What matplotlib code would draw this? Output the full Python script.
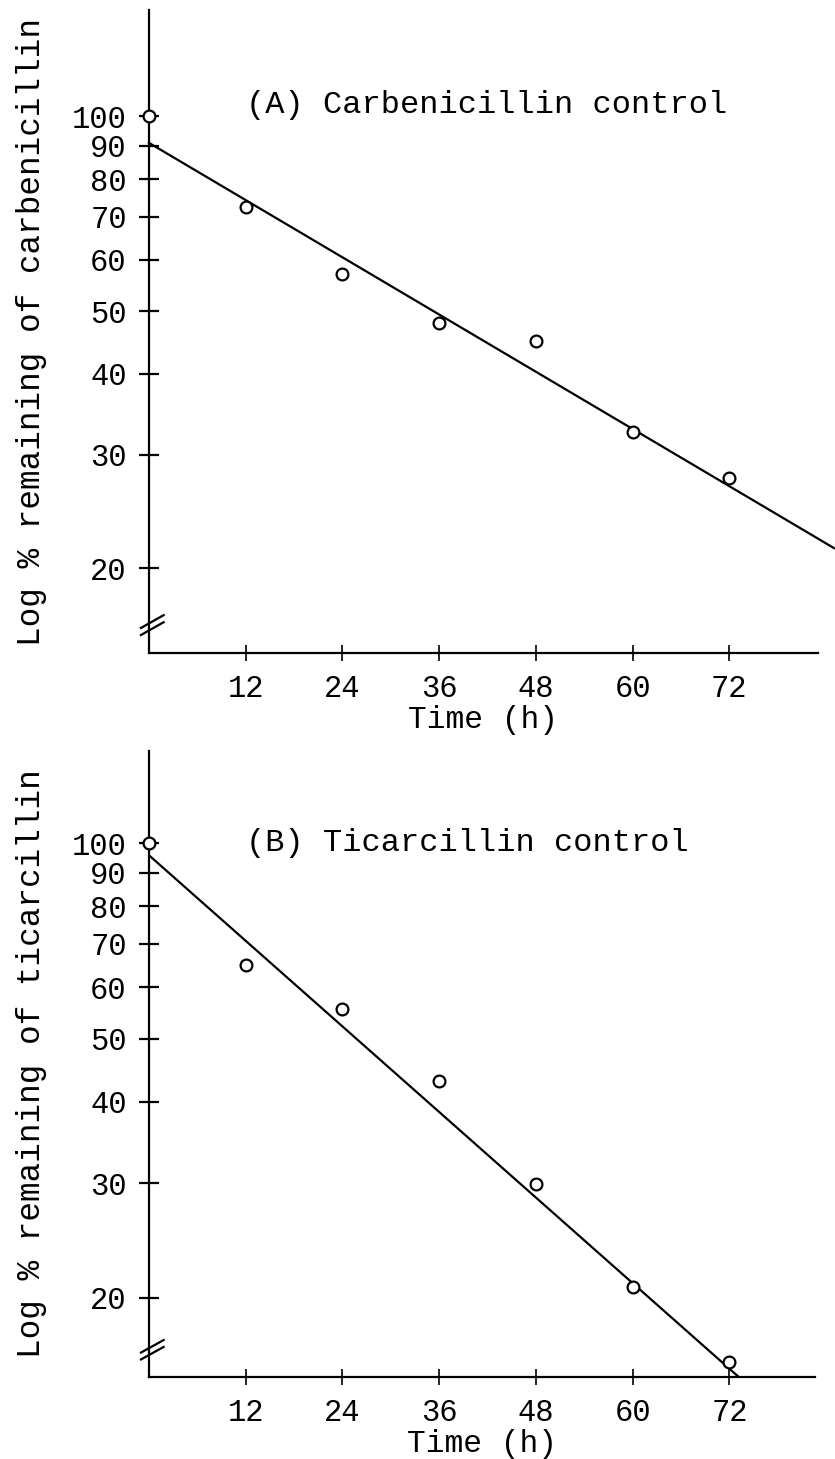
import matplotlib
matplotlib.use("Agg")
import matplotlib.pyplot as plt
import numpy as np

plt.rcParams['font.family'] = ['Liberation Mono', 'DejaVu Sans Mono']

# ---- data ----
time_h = [0, 12, 24, 36, 48, 60, 72]
carb_pct = [100, 72.5, 57.0, 48.0, 45.0, 32.5, 27.6]
tica_pct = [100, 65.0, 55.5, 43.0, 29.9, 20.8, 15.9]

fit_a_t = [0, 85]
fit_a_pct = [91.0, 21.5]
fit_b_t = [0, 80]
fit_b_pct = [95.8, 12.7]

ytick_vals = [20, 30, 40, 50, 60, 70, 80, 90, 100]
ytick_labels = ['20', '30', '40', '50', '60', '70', '80', '90', '100']
xtick_vals = [12, 24, 36, 48, 60, 72]
xtick_labels = ['12', '24', '36', '48', '60', '72']

panels = [
    dict(rect=[0.1784, 0.5524, 0.8012, 0.4407], pts=carb_pct, ft=fit_a_t, fp=fit_a_pct,
         ylim=(14.8, 146), xlim=(0, 83), title='(A) Carbenicillin control', ty=104,
         ylabel='Log % remaining of carbenicillin', fit_clip=False),
    dict(rect=[0.1784, 0.0562, 0.7976, 0.4291], pts=tica_pct, ft=fit_b_t, fp=fit_b_pct,
         ylim=(15.1, 138.6), xlim=(0, 82.6), title='(B) Ticarcillin control', ty=100,
         ylabel='Log % remaining of ticarcillin', fit_clip=True),
]

fig = plt.figure(figsize=(8.35, 14.59), dpi=100)
fs = 22

for p in panels:
    ax = fig.add_axes(p['rect'])
    ax.set_yscale('log')
    ax.set_xlim(*p['xlim'])
    ax.set_ylim(*p['ylim'])
    for s in ['top', 'right']:
        ax.spines[s].set_visible(False)
    for s in ['left', 'bottom']:
        ax.spines[s].set_linewidth(1.6)
    ax.yaxis.set_minor_locator(matplotlib.ticker.NullLocator())
    ax.set_yticks(ytick_vals)
    ax.set_yticklabels(ytick_labels)
    ax.set_xticks(xtick_vals)
    ax.set_xticklabels(xtick_labels)
    ax.tick_params(axis='y', direction='inout', length=14, width=1.6, labelsize=fs, pad=9)
    ax.tick_params(axis='x', direction='inout', length=12, width=1.2, labelsize=fs, pad=9)

    ax.plot(p['ft'], p['fp'], color='black', lw=1.6, clip_on=p['fit_clip'], zorder=2)
    ax.plot(time_h, p['pts'], linestyle='none', marker='o', ms=8.5, mfc='white',
            mec='black', mew=1.6, clip_on=False, zorder=3)

    ax.text(12, p['ty'], p['title'], fontsize=23, va='center', ha='left')
    ax.set_xlabel('Time (h)', fontsize=22.5, labelpad=1)
    ax.set_ylabel(p['ylabel'], fontsize=23.5, labelpad=18)

    # axis break marks
    for dy in (0.0, 0.011):
        ax.plot([-0.012, 0.022], [0.028 + dy, 0.048 + dy], transform=ax.transAxes,
                color='black', lw=1.6, clip_on=False)

fig.savefig('out.png', dpi=100)
